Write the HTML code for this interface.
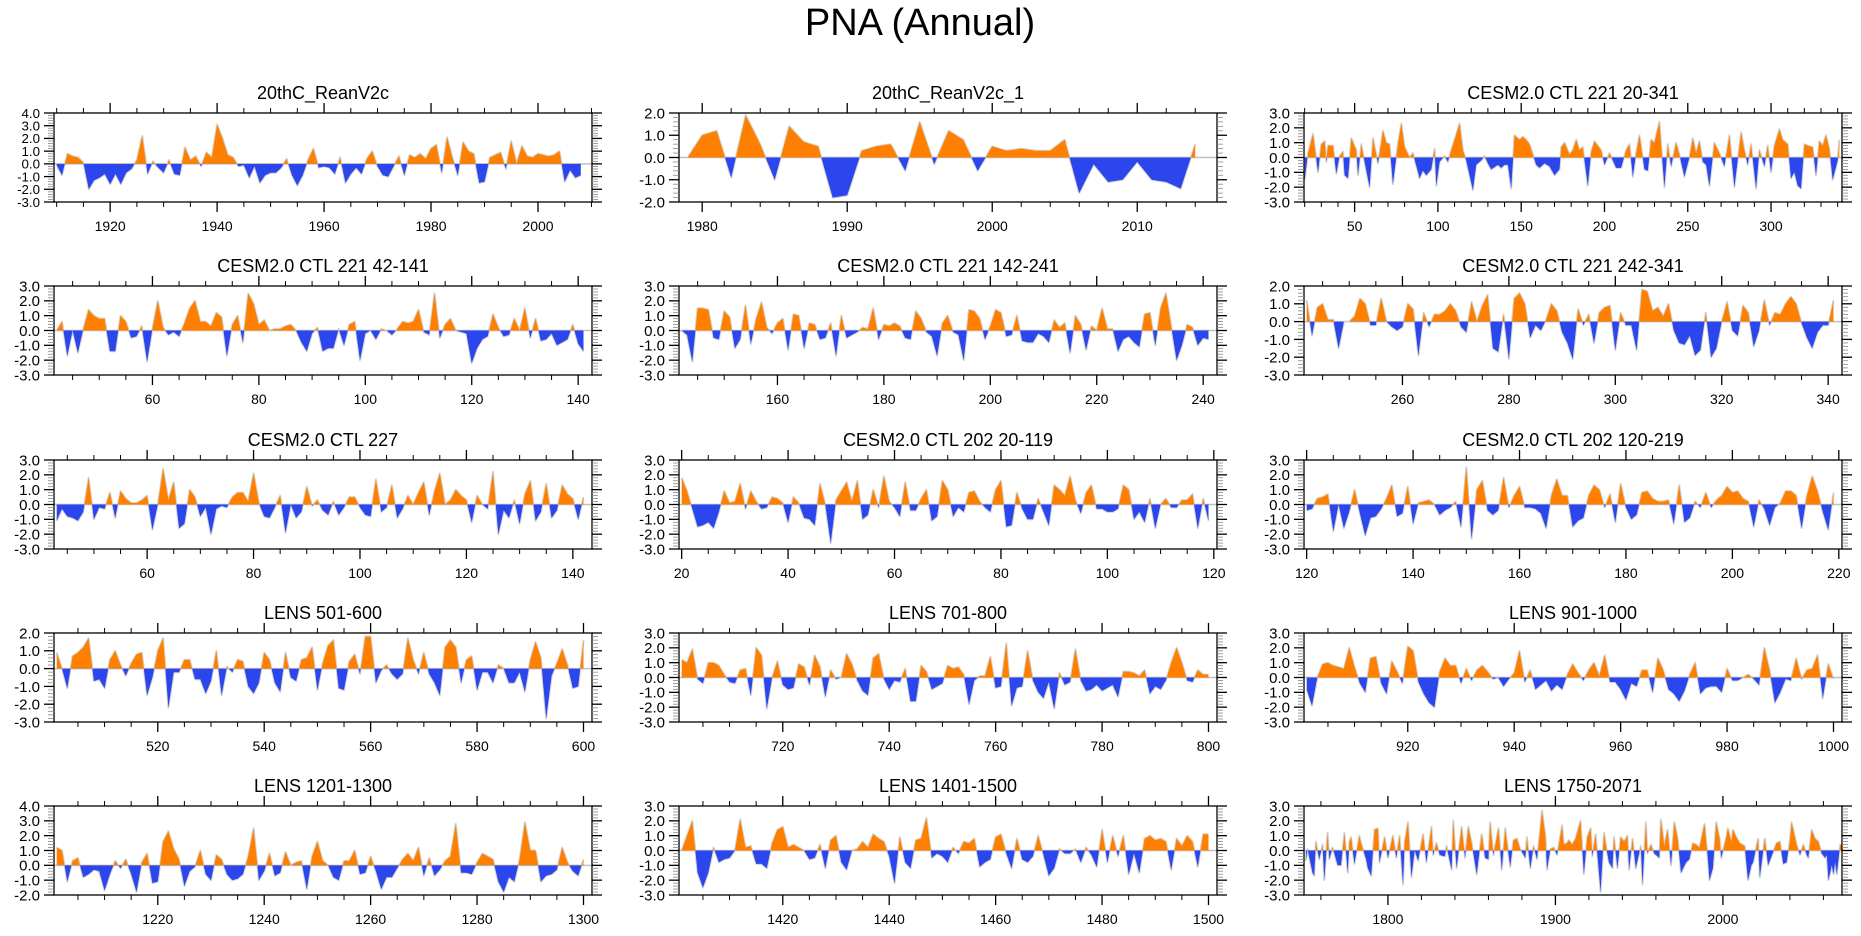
<!DOCTYPE html>
<html>
<head>
<meta charset="utf-8">
<style>
html,body{margin:0;padding:0;background:#fff;}
svg{display:block;font-family:"Liberation Sans",Arial,sans-serif;}
</style>
</head>
<body>
<svg id="chart" width="1861" height="936" viewBox="0 0 1861 936" xmlns="http://www.w3.org/2000/svg">
<rect x="0" y="0" width="1861" height="936" fill="#fff"/>
<text x="920" y="35" font-size="38" text-anchor="middle" fill="#000">PNA (Annual)</text>
</svg>
<script>
// ---- data ----
const p1Start = 1910;
const p1Values = [-0.1,-0.9,0.8,0.6,0.5,0.1,-2.0,-1.3,-1.1,-0.8,
-1.6,-0.8,-1.6,-0.7,-0.4,0.3,2.2,-0.8,0.2,-0.3,
-0.7,0.3,-0.8,-0.9,1.3,0.3,0.6,-0.2,0.9,0.5,
3.1,2.0,0.7,0.5,-0.2,-0.1,-1.1,-0.2,-1.5,-0.9,
-0.7,-0.7,-0.3,0.4,-0.9,-1.7,-0.9,0.3,1.2,-0.3,
-0.2,-0.3,-0.8,0.5,-1.5,-0.8,-0.3,-0.8,0.4,1.0,
-0.2,-0.9,-1.0,-0.2,0.6,-0.9,0.7,0.5,0.8,0.4,
1.2,1.5,-0.7,2.1,0.5,-0.9,1.7,1.0,0.8,-1.5,
-1.4,0.5,0.7,0.9,-0.4,1.8,0.0,1.4,0.6,0.5,
0.8,0.7,0.6,0.7,1.0,-1.4,-0.5,-1.1,-0.9];

const p2Start = 1979;
const p2Values = [0.0,1.0,1.2,-0.9,1.9,0.6,-1.0,1.4,0.7,0.5,
-1.8,-1.7,0.3,0.5,0.6,-0.6,1.6,-0.3,1.2,0.8,
-0.6,0.5,0.3,0.4,0.3,0.3,0.8,-1.6,-0.3,-1.1,
-1.0,-0.2,-1.0,-1.1,-1.4,0.6];

const p3Years = [20,22,25,28,30,32,33,34,37,39,
41,43,44,46,48,51,52,54,56,59,
61,64,67,69,71,73,76,78,80,83,
85,89,91,93,96,98,99,101,104,106,
108,110,113,115,117,121,123,126,128,130,
132,136,138,140,142,144,146,149,151,153,
155,157,159,161,164,167,170,173,174,176,
179,181,183,185,187,190,192,194,196,198,
200,203,207,210,213,215,217,219,221,224,
226,228,230,233,236,238,240,243,245,248,
251,253,255,257,259,261,263,266,269,272,
275,278,282,284,286,288,291,293,296,298,
300,302,305,307,310,312,314,316,318,320,
322,325,327,329,331,333,335,337,340,341];
const p3Values = [-1.5,0.3,1.6,-1.0,0.9,1.1,-0.3,0.8,0.8,-1.1,
0.1,0.4,-1.2,-1.4,1.3,0.5,-1.2,0.9,-0.3,-2.0,
1.3,-0.4,1.8,1.0,0.9,-1.8,0.9,2.3,0.7,0.0,
0.3,-1.4,-0.9,-1.2,-0.8,0.6,-1.9,-0.3,0.1,-0.3,
0.5,1.2,2.3,0.5,-0.2,-2.2,-0.5,-0.2,0.1,-0.4,
-0.8,-0.5,-0.7,-0.5,-0.5,-2.1,1.5,1.2,1.4,1.2,
0.9,0.2,-0.5,-0.7,-0.4,-0.6,-1.2,-0.8,0.7,1.0,
0.2,0.5,1.2,0.5,0.7,-1.9,0.4,1.1,0.8,0.5,
-0.5,0.3,-0.7,-0.7,0.5,0.9,-1.3,0.3,1.5,-0.8,
-0.9,1.2,1.0,2.4,-2.0,0.9,-0.6,1.0,0.2,-1.3,
0.0,1.3,0.3,1.1,-0.3,-0.5,-1.9,1.0,0.3,-0.6,
1.5,-2.0,1.7,0.5,-0.5,0.9,-2.1,0.5,-0.6,0.8,
-1.0,0.8,1.9,1.2,0.9,-1.4,-1.0,-1.9,-2.1,0.9,
0.8,0.7,-1.2,1.1,0.8,1.5,0.6,-1.5,-0.2,1.2];

const p4Start = 42;
const p4Values = [0.0,0.6,-1.7,0.0,-1.5,0.1,1.4,1.0,0.8,0.8,
-1.4,-1.4,1.0,0.6,-0.5,-0.4,0.3,-2.1,0.1,2.0,
0.2,-0.3,-0.1,-0.4,0.5,1.5,2.0,0.6,0.6,0.3,
1.2,0.9,-1.7,0.4,1.0,-0.8,2.5,1.8,0.4,0.7,
0.0,0.1,0.1,0.3,0.4,0.0,-0.8,-1.4,-0.2,0.2,
-1.4,-1.2,-1.2,0.1,-1.0,0.4,0.6,-2.0,-0.2,0.0,
-0.6,0.1,0.0,-0.3,0.1,0.6,0.5,0.6,1.4,-0.1,
-0.3,2.5,-0.5,0.4,0.8,0.0,-0.1,-0.2,-2.2,-1.2,
-0.6,-0.4,1.1,0.2,-0.4,-0.3,0.8,0.0,1.5,-0.5,
0.8,-0.7,-0.6,-0.2,-1.0,-0.8,-0.6,0.4,-0.9,-1.4];

const p5Start = 142;
const p5Values = [0.0,-0.3,-2.1,1.5,1.5,1.4,-0.5,-0.6,1.3,0.9,
-1.2,-0.6,1.7,-0.9,0.8,1.9,0.2,-0.2,0.5,0.8,
-1.3,1.1,1.0,-1.2,0.5,0.4,-0.6,-0.5,0.5,-1.7,
1.0,-0.5,-0.3,-0.1,0.2,0.1,1.5,-0.6,0.4,0.3,
0.5,0.3,-0.5,-0.6,1.3,0.8,-0.1,-0.4,-1.7,0.5,
1.0,-0.1,-0.3,-2.0,1.4,1.3,0.8,-0.6,0.3,1.4,
1.2,-0.4,-0.3,1.0,-0.7,-0.8,-0.8,-0.2,-0.4,-0.8,
0.7,0.2,0.5,-1.5,1.0,0.4,-1.3,0.3,0.0,1.5,
0.1,0.1,-1.4,-0.6,-0.4,-0.8,-1.1,1.1,1.2,-1.0,
1.5,2.5,0.3,-2.0,-1.0,0.4,0.2,-1.0,-0.5,-0.6];

const p6Start = 242;
const p6Values = [1.2,-0.8,0.8,1.0,0.1,0.1,-1.5,0.0,0.0,0.3,
1.3,1.0,-0.2,-0.2,1.3,0.0,-0.3,-0.5,-0.3,1.0,
0.7,-1.9,0.5,-0.3,0.4,0.4,0.6,1.0,0.6,-0.3,
-0.6,1.1,0.0,0.9,1.5,-1.5,-1.7,0.4,-2.1,1.3,
1.6,1.0,-0.9,-0.2,-0.5,0.1,1.0,0.6,-0.6,-1.2,
-2.1,0.7,-0.2,0.4,-1.2,0.5,0.8,0.9,-1.6,0.5,
-0.2,-0.2,-1.6,1.8,1.7,0.6,0.8,0.3,1.0,-0.5,
-1.2,-1.3,-0.8,-1.9,-1.6,0.5,-2.0,-1.5,0.0,1.1,
-0.5,-0.8,0.9,0.5,-1.4,-0.5,1.2,-0.2,0.5,0.4,
1.0,1.4,1.0,-0.1,-0.9,-1.5,-0.6,-0.2,-0.2,1.2];

const p7Start = 43;
const p7Values = [-1.1,-0.3,-0.8,-0.9,-1.1,-0.5,1.8,-1.0,-0.2,-0.3,
0.8,-0.9,0.9,0.4,0.1,0.1,0.3,0.6,-1.7,0.0,
2.4,0.3,1.5,-1.6,-1.3,1.0,0.5,-0.8,-0.2,-2.0,
-0.3,-0.1,-0.2,0.5,0.8,0.8,0.2,2.1,0.1,-0.8,
-0.9,-0.2,0.6,-1.9,0.0,-0.9,-0.5,1.2,-0.1,0.3,
-0.4,-0.7,0.2,-0.7,-0.2,0.5,0.5,-0.2,-0.7,-0.8,
1.7,-0.5,-0.2,1.3,-0.9,-0.3,0.6,0.0,0.8,1.5,
-0.7,0.9,2.1,0.0,0.3,1.0,0.6,0.3,-1.2,0.6,
0.0,-0.3,2.2,-2.0,-0.4,-0.9,0.3,-1.3,0.7,1.6,
-1.1,-0.5,1.4,-0.9,-0.4,1.3,0.7,0.4,-1.0,0.5];

const p8Start = 20;
const p8Values = [1.8,0.9,-0.3,-1.5,-1.4,-1.2,-1.6,-0.5,0.9,0.1,
0.2,1.4,-0.3,0.9,0.2,-0.3,-0.2,0.5,0.4,0.1,
-1.2,0.5,0.1,-0.9,-1.0,-1.4,1.4,0.0,-2.6,0.3,
0.9,1.5,0.2,1.6,-1.0,-0.7,1.0,-0.2,1.9,0.2,
-0.2,-0.8,1.5,-0.4,-0.4,0.4,1.0,-1.1,-0.8,1.6,
1.0,-0.8,-0.2,-0.5,0.8,0.9,0.2,-0.2,-0.5,1.0,
1.6,-1.5,-1.4,0.8,-0.3,-1.0,-1.0,0.4,-0.5,-1.4,
1.3,1.0,0.6,1.9,0.3,-0.6,0.8,1.3,-0.3,-0.3,
-0.5,-0.5,-0.3,1.3,1.0,-1.0,-0.5,-1.2,0.4,-1.6,
0.0,0.4,-0.2,-0.2,0.3,0.3,0.7,-1.6,0.4,-1.1];

const p9Start = 120;
const p9Values = [-0.4,-0.3,0.4,0.5,0.7,-1.8,0.0,-1.6,-0.5,1.0,
-0.6,-2.1,-0.9,-0.8,-0.3,0.4,1.3,-0.8,-0.6,1.2,
-1.3,0.1,0.2,0.3,0.0,-0.7,-0.4,-0.2,0.2,-1.5,
2.5,-2.3,1.0,1.6,-0.4,-0.7,-0.4,1.8,-0.2,0.6,
1.2,-0.2,-0.2,-0.3,-0.6,-1.6,0.6,1.7,0.6,0.6,
-1.5,-1.1,-0.9,0.6,1.3,1.0,-0.2,0.7,-1.2,1.4,
-0.2,-1.0,-0.7,0.8,0.9,0.4,0.2,0.2,0.3,-1.3,
1.3,-1.2,-0.9,0.2,-0.2,0.8,-0.2,0.3,0.6,1.2,
0.8,0.9,0.4,0.2,-1.5,0.3,-0.3,-1.4,-0.2,0.1,
0.9,0.9,0.6,-1.6,0.6,1.9,0.9,-0.5,-1.7,0.8];

const p10Start = 501;
const p10Values = [0.9,0.0,-1.1,0.7,0.9,1.2,1.7,-0.7,-0.6,-1.1,
0.5,1.0,0.2,-0.4,0.3,0.8,0.9,-1.5,-0.5,1.0,
1.7,-2.2,-0.2,-0.2,0.5,0.5,-0.6,-0.6,-1.4,-0.7,
1.0,-1.5,0.1,-0.2,0.5,0.4,-1.0,-1.4,-0.8,0.9,
0.5,-0.8,-1.3,0.9,-0.5,-0.7,0.5,0.6,1.2,-1.2,
0.3,1.3,1.6,-1.1,-1.2,0.4,0.8,-0.3,1.8,1.8,
-0.8,-0.1,0.2,-0.3,-0.6,-0.3,1.7,0.5,-0.3,0.9,
-0.3,-0.8,-1.5,1.2,1.6,1.2,-0.8,0.5,0.7,-1.2,
-0.2,-0.2,-0.8,0.2,0.0,-0.8,-0.8,-0.2,-1.3,0.5,
1.5,0.6,-2.8,-0.4,0.3,1.1,0.2,-1.1,-1.0,1.6];

const p11Start = 701;
const p11Values = [1.2,1.0,1.9,-0.1,-0.4,1.0,1.0,0.8,0.2,-0.3,
-0.4,0.5,0.6,-1.2,2.0,1.5,-2.1,0.0,1.1,-0.5,
-0.8,-0.7,0.9,0.7,-0.5,1.5,0.7,-1.3,0.5,-0.1,
0.0,1.6,0.9,-0.2,-0.9,-1.2,1.3,1.6,-0.1,-0.8,
-0.2,-0.3,0.6,-1.6,-1.6,0.8,0.4,-0.8,-0.6,-0.4,
0.8,0.6,0.7,0.2,-1.8,-0.2,0.1,0.1,1.4,-0.7,
-0.6,2.3,-1.9,-0.7,-0.6,1.8,-0.2,-1.0,-1.4,-0.3,
-2.1,0.3,-0.5,-0.3,1.9,-0.2,-0.9,-0.8,-0.5,-0.9,
-0.7,-0.5,-1.3,0.4,0.4,0.3,0.1,0.5,-1.1,-0.6,
-0.8,-0.2,1.0,2.0,1.0,-0.2,-0.3,0.5,0.2,0.2];

const p12Start = 901;
const p12Values = [-0.8,-1.9,0.0,0.9,1.0,0.8,0.7,0.6,2.0,0.7,
-0.4,-1.0,1.3,1.4,-0.4,-1.1,1.1,0.4,-0.4,2.1,
1.8,-0.3,-1.1,-1.7,-2.0,0.4,1.3,0.8,0.8,-0.4,
0.6,-0.2,0.5,0.8,0.4,-0.1,0.0,-0.6,-0.1,0.3,
1.8,-0.3,0.5,-0.8,-0.5,-0.2,-0.9,-0.5,-0.8,0.2,
0.9,0.3,-0.2,0.5,1.0,0.1,1.5,-0.3,-0.3,-0.8,
-1.5,-0.4,-0.6,0.5,0.5,-1.0,1.3,0.5,-0.8,-1.1,
-1.6,-0.9,0.2,1.0,-1.1,-0.7,-0.6,-0.6,-1.0,0.6,
-0.2,-0.2,0.0,0.2,-0.1,-0.5,2.0,0.5,-1.7,-1.0,
-0.1,-0.2,1.3,-0.1,0.5,0.6,1.5,-1.4,0.9,-0.1];

const p13Start = 1201;
const p13Values = [1.2,1.0,-1.1,0.3,0.5,-0.8,-0.6,-0.3,-0.4,-1.7,
-0.6,0.3,-0.2,0.4,-0.6,-1.8,0.2,0.8,-1.2,-1.1,
1.6,2.3,1.1,0.4,-1.4,-0.4,-0.1,1.0,-0.6,-1.0,
0.7,0.4,-0.6,-1.0,-0.9,-0.6,0.6,2.5,-1.0,-0.4,
0.8,-0.7,-0.5,0.9,0.0,0.2,0.3,-1.6,0.6,1.6,
0.3,0.0,-0.8,-1.0,0.3,0.3,1.0,-0.6,-0.5,0.6,
-0.4,-1.6,-0.8,-0.8,-0.2,0.4,0.8,0.3,1.2,-0.7,
0.5,-0.7,-0.3,0.3,0.6,2.8,-0.5,-0.5,-0.6,0.2,
0.8,0.6,0.4,-1.1,-1.8,-0.8,-1.1,0.4,2.9,1.0,
1.0,-1.1,-0.7,-0.6,-0.3,1.2,0.2,-0.4,-0.7,0.4];

const p14Start = 1401;
const p14Values = [0.0,1.0,2.0,-1.5,-2.5,-1.5,0.2,-0.8,-0.6,-0.5,
0.0,2.1,0.2,0.3,-0.9,-0.9,-1.2,0.5,1.4,1.6,
0.2,0.4,0.2,0.0,-0.6,-0.5,0.4,-1.2,0.7,1.0,
-0.8,-1.3,0.0,0.1,0.6,0.2,1.1,0.8,0.6,-0.4,
-2.2,0.9,-0.8,-1.2,0.7,0.8,2.2,-0.5,-0.2,-0.4,
-0.8,0.2,-0.2,0.6,0.5,0.8,-1.1,-0.8,-0.6,0.9,
1.1,-0.2,-1.2,0.8,-0.6,-0.8,-0.4,1.0,-0.3,-1.7,
-1.2,0.1,-0.2,-0.2,0.1,-0.8,0.2,-0.3,-1.1,1.4,
-0.8,1.0,-0.4,1.0,-1.6,-0.2,-1.5,0.8,1.0,0.7,
0.8,0.6,-1.3,0.8,0.3,1.0,0.6,-1.1,1.1,1.1];

const p15Years = [1751,1752,1755,1756,1757,1759,1761,1762,1764,1765,
1767,1770,1772,1774,1776,1777,1778,1780,1783,1784,
1787,1788,1790,1792,1794,1795,1798,1800,1803,1805,
1807,1809,1810,1812,1814,1816,1818,1821,1823,1826,
1827,1829,1831,1834,1835,1838,1839,1841,1844,1846,
1848,1850,1853,1856,1858,1860,1861,1863,1866,1868,
1870,1873,1875,1877,1879,1882,1883,1885,1887,1889,
1891,1892,1894,1895,1897,1899,1901,1904,1905,1907,
1908,1910,1912,1915,1917,1919,1921,1922,1924,1927,
1929,1931,1932,1934,1935,1937,1939,1941,1943,1944,
1946,1948,1951,1952,1954,1955,1957,1959,1962,1963,
1965,1967,1969,1971,1973,1975,1978,1980,1982,1984,
1986,1989,1991,1992,1994,1996,1998,1999,2002,2003,
2005,2006,2008,2010,2013,2015,2017,2018,2021,2022,
2025,2027,2029,2032,2034,2036,2038,2040,2041,2044,
2046,2048,2050,2051,2053,2055,2057,2059,2061,2062,
2063,2065,2066,2067,2068,2070,2071];
const p15Values = [-0.7,0.1,-1.5,-1.7,0.6,-0.6,0.4,-2.0,1.2,-0.6,
0.2,-1.0,-1.0,1.2,-1.5,0.6,0.9,-0.9,1.0,0.5,
-0.6,-1.2,-1.7,1.4,1.5,-0.8,0.9,-0.5,1.0,-0.5,
1.0,-2.3,0.6,1.9,-1.8,0.0,-0.7,1.1,-0.8,1.6,
-0.3,0.5,-0.3,-0.4,0.3,-1.3,2.0,-1.2,1.6,-0.5,
1.6,0.5,-1.6,1.1,-0.5,-0.6,1.9,-0.3,1.5,-1.3,
1.5,-1.1,0.7,0.8,0.1,-0.5,0.9,-1.2,0.3,-0.6,
1.5,2.7,1.0,-1.3,0.1,0.2,-0.3,1.7,0.4,0.5,
0.7,0.4,0.8,2.0,-1.6,0.9,1.5,-0.4,1.1,-2.8,
1.2,-0.2,-0.8,-1.2,0.9,-1.2,0.9,0.6,1.0,-1.3,
0.8,-1.2,0.3,-2.3,1.9,-0.2,0.4,-0.2,-0.5,2.1,
0.3,1.4,-1.0,1.9,0.8,-1.5,-0.8,-0.6,0.5,0.4,
0.2,1.8,-0.5,-2.0,-1.2,1.9,0.8,-0.5,0.9,1.5,
0.6,1.4,0.9,0.5,0.3,-2.0,-1.0,-0.8,0.8,-1.8,
0.8,-1.0,-0.4,0.5,0.6,-0.9,-0.8,0.7,1.9,0.4,
-0.3,0.4,-0.3,-0.5,1.4,0.8,0.6,-0.2,-0.5,-0.3,
-2.0,-1.0,-1.6,-0.8,-1.6,0.4,0.4];

// ---- layout / axis configuration ----
const PW = 538, PH = 89;
const colLeft = [54, 679, 1304];
const rowTop = [113, 286, 460, 633, 806];
function seq(start, vals){ return vals.map((v,i)=>start+i); }

const panels = [
 {name:'20thc-reanv2c', title:'20thC_ReanV2c', col:0,row:0, xmin:1909.5,xmax:2010.1, ymin:-3,ymax:4, major:20, minor:5, x:seq(p1Start,p1Values), y:p1Values},
 {name:'20thc-reanv2c-1', title:'20thC_ReanV2c_1', col:1,row:0, xmin:1978.4,xmax:2015.5, ymin:-2,ymax:2, major:10, minor:2, x:seq(p2Start,p2Values), y:p2Values},
 {name:'cesm-ctl221-20-341', title:'CESM2.0 CTL 221 20-341', col:2,row:0, xmin:19.6,xmax:342.6, ymin:-3,ymax:3, major:50, minor:10, x:p3Years, y:p3Values},
 {name:'cesm-ctl221-42-141', title:'CESM2.0 CTL 221 42-141', col:0,row:1, xmin:41.5,xmax:142.6, ymin:-3,ymax:3, major:20, minor:5, x:seq(p4Start,p4Values), y:p4Values},
 {name:'cesm-ctl221-142-241', title:'CESM2.0 CTL 221 142-241', col:1,row:1, xmin:141.5,xmax:242.6, ymin:-3,ymax:3, major:20, minor:5, x:seq(p5Start,p5Values), y:p5Values},
 {name:'cesm-ctl221-242-341', title:'CESM2.0 CTL 221 242-341', col:2,row:1, xmin:241.5,xmax:342.6, ymin:-3,ymax:2, major:20, minor:5, x:seq(p6Start,p6Values), y:p6Values},
 {name:'cesm-ctl227', title:'CESM2.0 CTL 227', col:0,row:2, xmin:42.5,xmax:143.6, ymin:-3,ymax:3, major:20, minor:5, x:seq(p7Start,p7Values), y:p7Values},
 {name:'cesm-ctl202-20-119', title:'CESM2.0 CTL 202 20-119', col:1,row:2, xmin:19.5,xmax:120.6, ymin:-3,ymax:3, major:20, minor:5, x:seq(p8Start,p8Values), y:p8Values},
 {name:'cesm-ctl202-120-219', title:'CESM2.0 CTL 202 120-219', col:2,row:2, xmin:119.5,xmax:220.6, ymin:-3,ymax:3, major:20, minor:5, x:seq(p9Start,p9Values), y:p9Values},
 {name:'lens-501-600', title:'LENS 501-600', col:0,row:3, xmin:500.5,xmax:601.6, ymin:-3,ymax:2, major:20, minor:5, x:seq(p10Start,p10Values), y:p10Values},
 {name:'lens-701-800', title:'LENS 701-800', col:1,row:3, xmin:700.5,xmax:801.6, ymin:-3,ymax:3, major:20, minor:5, x:seq(p11Start,p11Values), y:p11Values},
 {name:'lens-901-1000', title:'LENS 901-1000', col:2,row:3, xmin:900.5,xmax:1001.6, ymin:-3,ymax:3, major:20, minor:5, x:seq(p12Start,p12Values), y:p12Values},
 {name:'lens-1201-1300', title:'LENS 1201-1300', col:0,row:4, xmin:1200.5,xmax:1301.6, ymin:-2,ymax:4, major:20, minor:5, x:seq(p13Start,p13Values), y:p13Values},
 {name:'lens-1401-1500', title:'LENS 1401-1500', col:1,row:4, xmin:1400.5,xmax:1501.6, ymin:-3,ymax:3, major:20, minor:5, x:seq(p14Start,p14Values), y:p14Values},
 {name:'lens-1750-2071', title:'LENS 1750-2071', col:2,row:4, xmin:1749.9,xmax:2071.1, ymin:-3,ymax:3, major:100, minor:20, x:p15Years, y:p15Values}
];

const NS = 'http://www.w3.org/2000/svg';
const svg = document.getElementById('chart');
function mk(tag, attrs, parent){
  const e = document.createElementNS(NS, tag);
  for (const k in attrs) e.setAttribute(k, attrs[k]);
  parent.appendChild(e);
  return e;
}

panels.forEach((p, pi) => {
  const L = colLeft[p.col], T = rowTop[p.row], R = L + PW, B = T + PH;
  const sx = v => L + (v - p.xmin) / (p.xmax - p.xmin) * PW;
  const sy = v => T + (p.ymax - v) / (p.ymax - p.ymin) * PH;
  const g = mk('g', {}, svg);
  
  

  const defs = mk('defs', {}, g);
  const cpPos = mk('clipPath', {id:'pos'+pi}, defs);
  mk('rect', {x:L, y:T, width:PW, height:sy(0)-T}, cpPos);
  const cpNeg = mk('clipPath', {id:'neg'+pi}, defs);
  mk('rect', {x:L, y:sy(0), width:PW, height:B-sy(0)}, cpNeg);

  const tt = mk('text', {x:L+PW/2, y:T-14, 'font-size':18, 'text-anchor':'middle', fill:'#000'}, g);
  tt.textContent = p.title;
  
  

  const zl = mk('line', {x1:L, x2:R, y1:sy(0), y2:sy(0), stroke:'#c0c0c0', 'stroke-width':1.5}, g);
  
  

  const pts = p.x.map((xv,i) => sx(xv).toFixed(1)+','+sy(p.y[i]).toFixed(1));
  const outline = mk('polyline', {points:pts.join(' '), fill:'none', stroke:'#d4d4d4', 'stroke-width':2, 'stroke-linejoin':'round'}, g);
  
  
  const first = sx(p.x[0]).toFixed(1)+','+sy(0).toFixed(1);
  const last = sx(p.x[p.x.length-1]).toFixed(1)+','+sy(0).toFixed(1);
  const areaPts = [first].concat(pts, [last]).join(' ');
  const pos = mk('polygon', {points:areaPts, fill:'#ff8000', 'clip-path':'url(#pos'+pi+')'}, g);
  
  
  const neg = mk('polygon', {points:areaPts, fill:'#2a46ec', 'clip-path':'url(#neg'+pi+')'}, g);
  
  

  const fr = mk('rect', {x:L, y:T, width:PW, height:PH, fill:'none', stroke:'#000', 'stroke-width':1.3}, g);
  
  

  const xt = mk('g', {stroke:'#000'}, g);
  
  
  for (let v = Math.ceil(p.xmin / p.minor) * p.minor; v <= p.xmax; v += p.minor) {
    const isMajor = Math.abs(v / p.major - Math.round(v / p.major)) < 1e-6;
    const len = isMajor ? 10 : 5;
    const X = sx(v);
    mk('line', {x1:X, x2:X, y1:B, y2:B+len, 'stroke-width':isMajor?1.3:1}, xt);
    mk('line', {x1:X, x2:X, y1:T, y2:T-len, 'stroke-width':isMajor?1.3:1}, xt);
    if (isMajor) {
      const lb = mk('text', {x:X, y:B+29, 'font-size':14, 'text-anchor':'middle', fill:'#000', stroke:'none'}, xt);
      lb.textContent = String(Math.round(v));
      
      
    }
  }
  const yt = mk('g', {stroke:'#000'}, g);
  
  
  const spacing = PH / (p.ymax - p.ymin);
  const fs = Math.min(15, spacing * 1.05);
  for (let k = Math.round(p.ymin*5); k <= Math.round(p.ymax*5); k++) {
    const v = k / 5;
    const isMajor = k % 5 === 0;
    const len = isMajor ? 10 : 6;
    const Y = sy(v);
    mk('line', {x1:L, x2:L-len, y1:Y, y2:Y, 'stroke-width':isMajor?1.3:0.8, stroke:isMajor?'#000':'#888'}, yt);
    mk('line', {x1:R, x2:R+len, y1:Y, y2:Y, 'stroke-width':isMajor?1.3:0.8, stroke:isMajor?'#000':'#888'}, yt);
    if (isMajor) {
      const lb = mk('text', {x:L-14, y:Y+fs*0.36, 'font-size':fs.toFixed(1), 'text-anchor':'end', fill:'#000', stroke:'none'}, yt);
      lb.textContent = v.toFixed(1);
      
      
    }
  }
});
</script>
</body>
</html>
